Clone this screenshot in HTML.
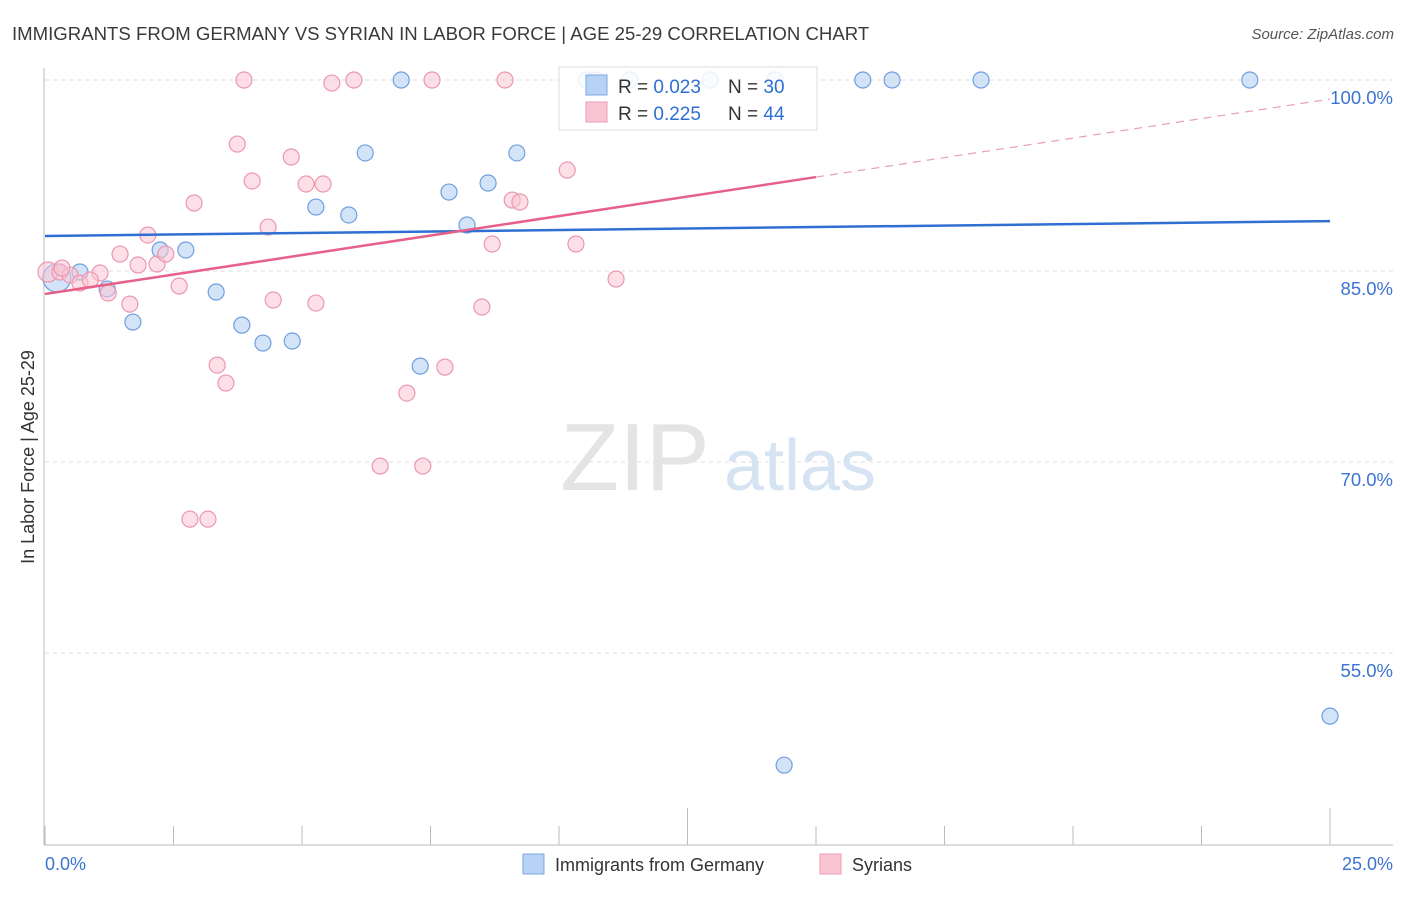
<!DOCTYPE html>
<html><head><meta charset="utf-8">
<style>
body{margin:0;background:#fff;font-family:"Liberation Sans",sans-serif;}
svg text{font-family:"Liberation Sans",sans-serif;}
</style></head>
<body>
<svg id="chart" width="1406" height="892" viewBox="0 0 1406 892" xmlns="http://www.w3.org/2000/svg">
<text x="12" y="40" font-size="18.6" fill="#3a3a3a">IMMIGRANTS FROM GERMANY VS SYRIAN IN LABOR FORCE | AGE 25-29 CORRELATION CHART</text>
<text x="1394" y="39" font-size="15" font-style="italic" fill="#555" text-anchor="end">Source: ZipAtlas.com</text>
<text transform="translate(34,457) rotate(-90)" font-size="18" fill="#333" text-anchor="middle">In Labor Force | Age 25-29</text>
<g id="grid"></g>
<g>
<text x="635" y="490" font-size="96" font-family="Liberation Serif,serif" fill="#e4e4e4" text-anchor="middle">ZIP</text>
<text x="800" y="490" font-size="72" fill="#d6e3f3" text-anchor="middle">atlas</text>
</g>
<g id="axes"></g>
<g id="pts"></g>
<g id="trends"></g>
<g>
<rect x="559" y="67" width="258" height="63" fill="#fff" fill-opacity="0.85" stroke="#ddd"/>
<rect x="586" y="75" width="21" height="20" fill="#b7d2f4" stroke="#7ba7e3"/>
<rect x="586" y="102" width="21" height="20" fill="#f9c5d3" stroke="#ee9cb4"/>
<text x="618" y="93" font-size="19" fill="#333">R = <tspan fill="#2f6fd1">0.023</tspan><tspan x="728">N = </tspan><tspan fill="#2f6fd1">30</tspan></text>
<text x="618" y="120" font-size="19" fill="#333">R = <tspan fill="#2f6fd1"> 0.225</tspan><tspan x="728">N = </tspan><tspan fill="#2f6fd1">44</tspan></text>
</g>
<g>
<rect x="523" y="854" width="21" height="20" fill="#b7d2f4" stroke="#7ba7e3"/>
<text x="555" y="871" font-size="18" fill="#333">Immigrants from Germany</text>
<rect x="820" y="854" width="21" height="20" fill="#f9c5d3" stroke="#ee9cb4"/>
<text x="852" y="871" font-size="18" fill="#333">Syrians</text>
</g>
</svg>
<script>
const yTicks=[100,85,70,55];
const yTickLabels=["100.0%","85.0%","70.0%","55.0%"];
const xTickLabels=["0.0%","25.0%"];
const germanyX=[0.23,0.68,1.21,1.71,2.24,2.74,3.33,3.83,4.24,4.81,5.27,5.91,6.23,6.93,7.30,7.86,8.21,8.62,9.18,10.53,10.72,11.38,12.94,14.20,14.38,15.91,16.48,18.21,23.44,25.0];
const germanyY=[84.45,84.92,83.58,80.99,86.65,86.65,83.35,80.75,79.34,79.50,90.02,89.40,94.27,100,77.53,91.20,88.61,91.91,94.27,100,100,100,100,100,46.19,100,100,100,100,50.04];
const syrianX=[0.06,0.29,0.49,1.07,0.68,1.23,1.46,1.65,1.81,2.00,2.18,2.35,2.61,2.82,3.17,2.90,3.35,3.52,3.74,3.87,4.03,4.34,4.44,4.79,5.08,5.27,5.41,5.58,6.01,6.52,7.04,7.35,7.53,7.78,8.50,8.70,8.95,9.09,9.24,10.16,10.33,11.11,0.88,0.33];
const syrianY=[84.92,84.92,84.68,84.84,84.05,83.27,86.33,82.40,85.47,87.82,85.55,86.33,83.82,65.51,65.51,90.34,77.61,76.20,94.97,100,92.07,88.45,82.72,93.95,91.83,82.48,91.83,99.76,100,69.68,75.41,69.68,100,77.45,82.17,87.12,100,90.57,90.42,92.93,87.12,84.37,84.29,85.23];
const germanyTrend=[87.75,88.92];
const syrianTrend=[83.19,98.5];
const syrianSolidEnd=15;

const NS="http://www.w3.org/2000/svg";
const X=v=>45+v*51.4;
const Y=v=>80+(100-v)*12.733;
function mk(tag,parent,attrs){const e=document.createElementNS(NS,tag);for(const k in attrs)e.setAttribute(k,attrs[k]);parent.appendChild(e);return e;}
const grid=document.getElementById('grid'),axes=document.getElementById('axes'),pts=document.getElementById('pts'),tr=document.getElementById('trends');
yTicks.forEach((t,i)=>{
  const l=mk('line',grid,{x1:45,x2:1393,y1:Y(t),y2:Y(t),stroke:'#dcdcdc','stroke-dasharray':'4,4'});
  
  
  const tx=mk('text',grid,{x:1393,y:Y(t)+24,'font-size':18.5,fill:'#3c74d1','text-anchor':'end'});
  tx.textContent=yTickLabels[i];
  
  
});
mk('line',axes,{x1:44,x2:44,y1:68,y2:845,stroke:'#bbb'});
mk('line',axes,{x1:44,x2:1393,y1:845,y2:845,stroke:'#bbb'});
for(let i=0;i<=10;i++){const x=X(i*2.5);const top=(i==5||i==10)?808:826;const t=mk('line',axes,{x1:x,x2:x,y1:top,y2:845,stroke:'#bbb'});
 
 }
[[0,45,'start'],[25,1393,'end']].forEach((d,i)=>{const t=mk('text',axes,{x:d[1],y:870,'font-size':18,fill:'#3c74d1','text-anchor':d[2]});t.textContent=xTickLabels[i];
 
 });
germanyX.forEach((x,i)=>{const c=mk('circle',pts,{cx:X(x),cy:Y(germanyY[i]),r:i==0?14:8,fill:'#b7d2f4','fill-opacity':0.6,stroke:'#6f9fe0','stroke-width':1.2});
 
 });
syrianX.forEach((x,i)=>{const c=mk('circle',pts,{cx:X(x),cy:Y(syrianY[i]),r:i==0?10:8,fill:'#f9c5d3','fill-opacity':0.55,stroke:'#ec97b1','stroke-width':1.2});
 
 });
const g=mk('line',tr,{x1:X(0),x2:X(25),y1:Y(germanyTrend[0]),y2:Y(germanyTrend[1]),stroke:'#2f6fd1','stroke-width':2.5});


const sy=v=>syrianTrend[0]+(syrianTrend[1]-syrianTrend[0])*v/25;
const s=mk('line',tr,{x1:X(0),x2:X(syrianSolidEnd),y1:Y(sy(0)),y2:Y(sy(syrianSolidEnd)),stroke:'#e7608a','stroke-width':2.5});


const sd=mk('line',tr,{x1:X(syrianSolidEnd),x2:X(25),y1:Y(sy(syrianSolidEnd)),y2:Y(sy(25)),stroke:'#e7a0b6','stroke-width':1.2,'stroke-dasharray':'8,6'});


</script>
</body></html>
